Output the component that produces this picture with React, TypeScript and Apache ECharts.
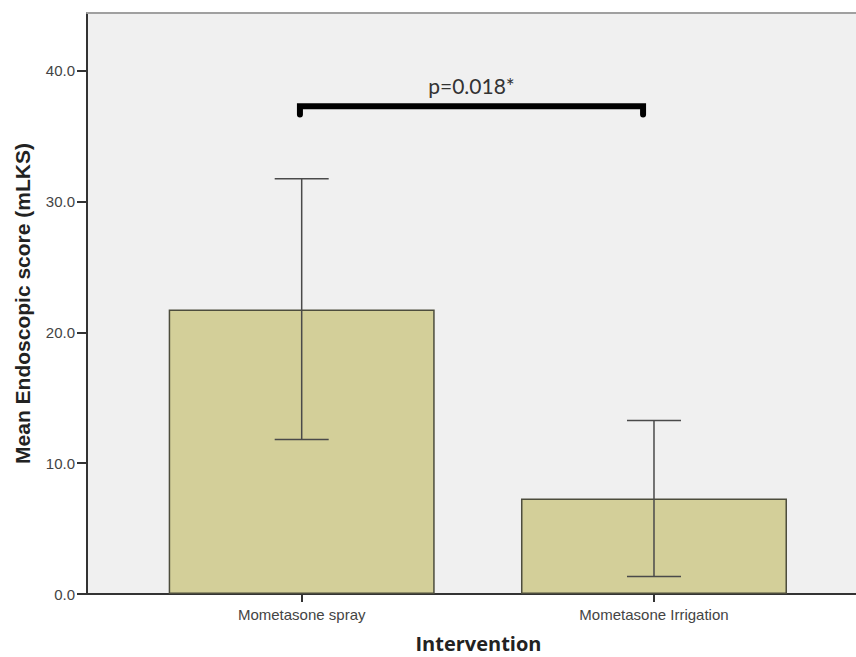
import React, { useEffect, useRef } from "react";
import * as echarts from "echarts";

// ---- data ----
const categories = ["Mometasone spray", "Mometasone Irrigation"];
const categoryPos = [1, 2];
const means = [21.75, 7.3];
const lowers = [11.8, 1.34];
const uppers = [31.73, 13.26];
const yTicks = [0, 10, 20, 30, 40];
const pLabel = "p=0.018*";
const bracketX = [0.995, 1.969];
const bracketY = [37.27, 36.65]; // top, end

const FONT = "'Liberation Sans', Arial, sans-serif";
const X_MIN = 0.3906;
const X_MAX = 2.5734;

export default function App() {
  const ref = useRef<HTMLDivElement>(null);
  useEffect(() => {
    document.body.style.margin = "0";
    const chart = echarts.init(ref.current!, null, { renderer: "svg" });
    const option: any = {
      animation: false,
      backgroundColor: "#ffffff",
      grid: {
        left: 87,
        right: 0,
        top: 13,
        bottom: 63,
        outerBoundsMode: "none",
        containLabel: false,
        show: true,
        backgroundColor: "#f0f0f0",
        borderWidth: 0,
      },
      xAxis: [
        {
          type: "value",
          min: X_MIN,
          max: X_MAX,
          name: "Intervention",
          nameLocation: "middle",
          nameGap: 41,
          nameTextStyle: {
            fontFamily: "'Open Sans', sans-serif",
            fontWeight: "bold",
            fontSize: 20,
            lineHeight: 17,
            color: "#222",
            padding: [0, 0, 0, 14],
          },
          splitLine: { show: false },
          axisLine: { onZero: false, lineStyle: { color: "#333", width: 2 } },
          axisTick: {
            customValues: categoryPos,
            length: 8,
            lineStyle: { color: "#333", width: 2 },
          },
          axisLabel: {
            customValues: categoryPos,
            formatter: (v: number) => categories[categoryPos.indexOf(v)] ?? "",
            fontFamily: FONT,
            fontSize: 15,
            color: "#444",
            margin: 13,
          },
        },
        {
          type: "value",
          position: "top",
          min: X_MIN,
          max: X_MAX,
          splitLine: { show: false },
          axisLine: { show: true, onZero: false, lineStyle: { color: "#a0a0a0", width: 2 } },
          axisTick: { show: false },
          axisLabel: { show: false },
        },
      ],
      yAxis: {
        type: "value",
        min: 0,
        max: 44.4,
        name: "Mean Endoscopic score (mLKS)",
        nameLocation: "middle",
        nameGap: 54,
        nameTextStyle: {
          fontFamily: FONT,
          fontWeight: "bold",
          fontSize: 21,
          color: "#222",
        },
        splitLine: { show: false },
        axisLine: { show: true, lineStyle: { color: "#333", width: 2 } },
        axisTick: {
          show: true,
          customValues: yTicks,
          length: 10,
          lineStyle: { color: "#333", width: 2 },
        },
        axisLabel: {
          customValues: yTicks,
          formatter: (v: number) => v.toFixed(1),
          fontFamily: FONT,
          fontSize: 15,
          color: "#444",
          margin: 12,
        },
      },
      series: [
        {
          type: "bar",
          data: categoryPos.map((x, i) => [x, means[i]]),
          barWidth: 266,
          itemStyle: {
            color: "#d3cf99",
            borderColor: "#4d4d3d",
            borderWidth: 1.5,
          },
          z: 2,
        },
        {
          type: "custom",
          data: categoryPos.map((x, i) => [x, lowers[i], uppers[i]]),
          encode: { x: 0, y: [1, 2] },
          z: 3,
          renderItem: (params: any, api: any) => {
            const x = api.value(0);
            const pLo = api.coord([x, api.value(1)]);
            const pHi = api.coord([x, api.value(2)]);
            const w = 27;
            const st = { stroke: "#4a4a4a", lineWidth: 1.5 };
            return {
              type: "group",
              children: [
                { type: "line", shape: { x1: pLo[0], y1: pLo[1], x2: pHi[0], y2: pHi[1] }, style: st },
                { type: "line", shape: { x1: pHi[0] - w, y1: pHi[1], x2: pHi[0] + w, y2: pHi[1] }, style: st },
                { type: "line", shape: { x1: pLo[0] - w, y1: pLo[1], x2: pLo[0] + w, y2: pLo[1] }, style: st },
              ],
            };
          },
        },
        {
          type: "custom",
          data: [[bracketX[0], bracketX[1], bracketY[0], bracketY[1]]],
          encode: { x: [0, 1], y: [2, 3] },
          z: 4,
          renderItem: (params: any, api: any) => {
            const a = api.coord([api.value(0), api.value(2)]);
            const b = api.coord([api.value(1), api.value(2)]);
            const ae = api.coord([api.value(0), api.value(3)]);
            const be = api.coord([api.value(1), api.value(3)]);
            return {
              type: "group",
              children: [
                {
                  type: "polyline",
                  shape: { points: [ae, a, b, be] },
                  style: { stroke: "#000", lineWidth: 6, lineCap: "round", lineJoin: "miter", fill: "none" },
                },
                {
                  type: "text",
                  x: (a[0] + b[0]) / 2,
                  y: a[1] - 20.5,
                  style: {
                    text: pLabel,
                    fontFamily: "Lato, 'Open Sans', sans-serif",
                    fontSize: 21,
                    fill: "#333",
                    align: "center",
                    verticalAlign: "middle",
                  },
                },
              ],
            };
          },
        },
      ],
    };
    chart.setOption(option);
    return () => chart.dispose();
  }, []);
  return <div ref={ref} style={{ width: 856, height: 657 }} />;
}
